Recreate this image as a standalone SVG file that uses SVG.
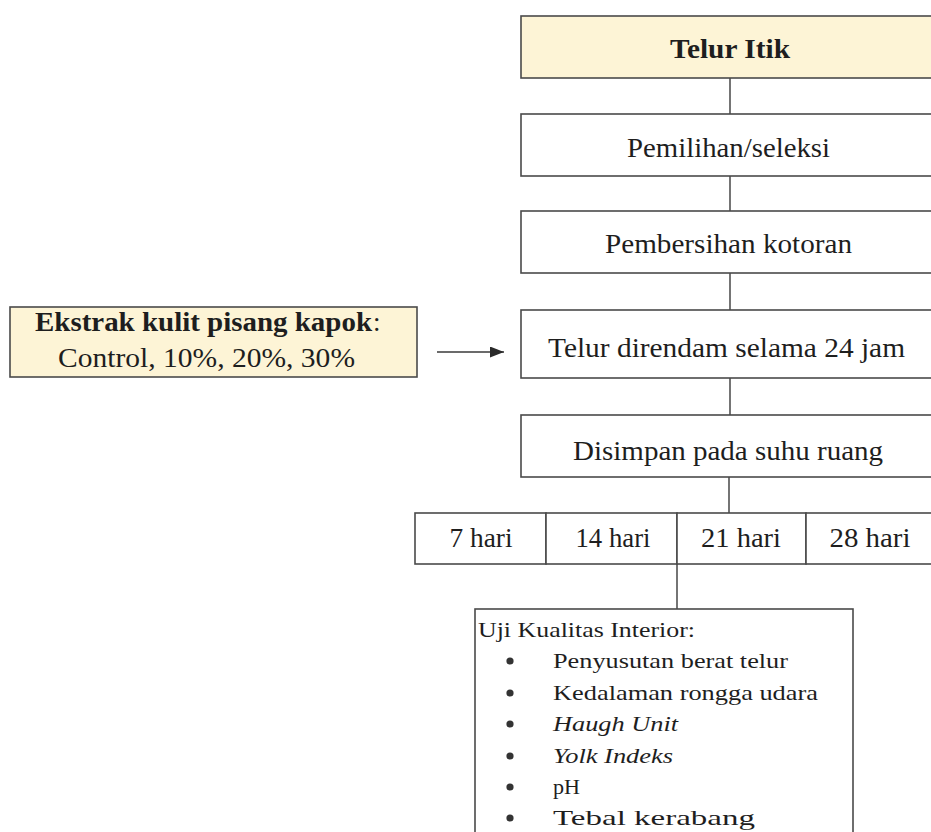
<svg xmlns="http://www.w3.org/2000/svg" width="931" height="832" viewBox="0 0 931 832">
<style>
  .box { fill: #ffffff; stroke: #4a4a4a; stroke-width: 1.6; }
  .hl { fill: #fdf4d6; stroke: #4a4a4a; stroke-width: 1.6; }
  .t { font-family: "Liberation Serif", "Times New Roman", serif; font-size: 27px; fill: #1e1e1e; }
  .b { font-weight: bold; }
  .c { text-anchor: middle; }
  .li { font-family: "Liberation Serif", "Times New Roman", serif; font-size: 22px; fill: #1e1e1e; }
  .it { font-style: italic; }
  .ln { stroke: #3a3a3a; stroke-width: 1.4; fill: none; }
  .dot { fill: #333333; }
</style>
<defs>
  <marker id="arr" viewBox="0 0 14 11" refX="14" refY="5.5" markerWidth="14" markerHeight="11" markerUnits="userSpaceOnUse" orient="auto">
    <path d="M0,0 L14,5.5 L0,11 Z" fill="#2a2a2a"/>
  </marker>
</defs>
<rect x="0" y="0" width="931" height="832" fill="#ffffff"/>

<g id="connectors">
  <line class="ln" x1="730" y1="78" x2="730" y2="114"/>
  <line class="ln" x1="730" y1="176" x2="730" y2="211"/>
  <line class="ln" x1="730" y1="273" x2="730" y2="310"/>
  <line class="ln" x1="730" y1="378" x2="730" y2="415"/>
  <line class="ln" x1="729" y1="477" x2="729" y2="513"/>
  <line class="ln" x1="677" y1="564" x2="677" y2="609"/>
  <line class="ln" x1="437" y1="352" x2="504" y2="352" marker-end="url(#arr)"/>
</g>

<g id="telur-itik">
  <rect class="hl" x="521" y="16" width="420" height="62"/>
  <text class="t b c" x="730" y="58" font-size="28" textLength="120" lengthAdjust="spacingAndGlyphs">Telur Itik</text>
</g>

<g id="pemilihan">
  <rect class="box" x="521" y="114" width="420" height="62"/>
  <text class="t c" x="728.5" y="157" textLength="203" lengthAdjust="spacingAndGlyphs">Pemilihan/seleksi</text>
</g>

<g id="pembersihan">
  <rect class="box" x="521" y="211" width="420" height="62"/>
  <text class="t c" x="728.5" y="253" textLength="247" lengthAdjust="spacingAndGlyphs">Pembersihan kotoran</text>
</g>

<g id="direndam">
  <rect class="box" x="521" y="310" width="420" height="68"/>
  <text class="t c" x="726.5" y="357" textLength="357" lengthAdjust="spacingAndGlyphs">Telur direndam selama 24 jam</text>
</g>

<g id="disimpan">
  <rect class="box" x="521" y="415" width="420" height="62"/>
  <text class="t c" x="728" y="460" textLength="310" lengthAdjust="spacingAndGlyphs">Disimpan pada suhu ruang</text>
</g>

<g id="ekstrak">
  <rect class="hl" x="10" y="307" width="407" height="70"/>
  <text class="t b" x="35" y="331" textLength="337" lengthAdjust="spacingAndGlyphs">Ekstrak kulit pisang kapok</text>
  <text class="t" x="373" y="331">:</text>
  <text class="t c" x="206.5" y="367" textLength="297" lengthAdjust="spacingAndGlyphs">Control, 10%, 20%, 30%</text>
</g>

<g id="hari-7">
  <rect class="box" x="415" y="513" width="131" height="51"/>
  <text class="t c" x="481" y="547" textLength="63" lengthAdjust="spacingAndGlyphs">7 hari</text>
</g>
<g id="hari-14">
  <rect class="box" x="546" y="513" width="131" height="51"/>
  <text class="t c" x="613" y="547" textLength="75" lengthAdjust="spacingAndGlyphs">14 hari</text>
</g>
<g id="hari-21">
  <rect class="box" x="677" y="513" width="129" height="51"/>
  <text class="t c" x="741" y="547" textLength="80" lengthAdjust="spacingAndGlyphs">21 hari</text>
</g>
<g id="hari-28">
  <rect class="box" x="806" y="513" width="130" height="51"/>
  <text class="t c" x="870" y="547" textLength="81" lengthAdjust="spacingAndGlyphs">28 hari</text>
</g>

<g id="uji">
  <rect class="box" x="475" y="609" width="378" height="240"/>
  <text class="li" x="478" y="637" textLength="217" lengthAdjust="spacingAndGlyphs">Uji Kualitas Interior:</text>
  <circle class="dot" cx="510" cy="661" r="3.6"/>
  <text class="li" x="553" y="668" textLength="235" lengthAdjust="spacingAndGlyphs">Penyusutan berat telur</text>
  <circle class="dot" cx="510" cy="693" r="3.6"/>
  <text class="li" x="553" y="700" textLength="265" lengthAdjust="spacingAndGlyphs">Kedalaman rongga udara</text>
  <circle class="dot" cx="510" cy="724" r="3.6"/>
  <text class="li it" x="553" y="731" textLength="125" lengthAdjust="spacingAndGlyphs">Haugh Unit</text>
  <circle class="dot" cx="510" cy="756" r="3.6"/>
  <text class="li it" x="553" y="763" textLength="120" lengthAdjust="spacingAndGlyphs">Yolk Indeks</text>
  <circle class="dot" cx="510" cy="787" r="3.6"/>
  <text class="li" x="553" y="794" textLength="27" lengthAdjust="spacingAndGlyphs">pH</text>
  <circle class="dot" cx="510" cy="818" r="3.6"/>
  <text class="li" x="553" y="825" textLength="202" lengthAdjust="spacingAndGlyphs">Tebal kerabang</text>
</g>
</svg>
